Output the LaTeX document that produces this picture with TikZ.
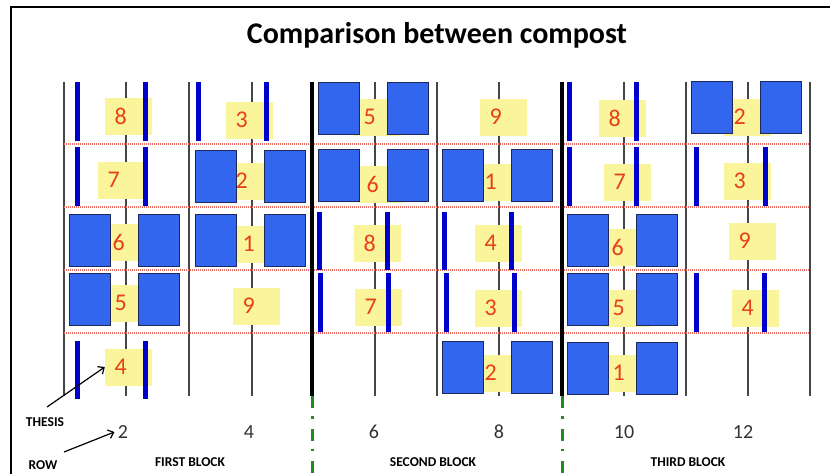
\documentclass[tikz,border=0pt]{standalone}
\usepackage{fontspec}
\setmainfont{Carlito}
\usepackage{xcolor}
\usetikzlibrary{arrows.meta, positioning, calc}
\definecolor{plotblue}{RGB}{50,102,238}
\definecolor{plotedge}{RGB}{30,40,90}
\definecolor{barblue}{RGB}{0,0,204}
\definecolor{labelyellow}{RGB}{250,245,155}
\definecolor{numred}{RGB}{232,64,24}
\definecolor{dotred}{RGB}{230,110,100}
\definecolor{blockgreen}{RGB}{30,140,30}
\definecolor{linegray}{RGB}{70,70,70}
\definecolor{numgray}{RGB}{50,50,50}

\begin{document}
\begin{tikzpicture}[x=1pt, y=-1pt,
    numtag/.style={fill=labelyellow, text=numred, inner xsep=9.5pt, inner ysep=0pt,
      text width=28pt, align=left, minimum height=37pt, font=\fontsize{24}{24}\selectfont},
    plotbox/.style={fill=plotblue, draw=plotedge, line width=0.8pt},
    plotbar/.style={barblue, line width=5pt},
    rowline/.style={linegray, line width=1.3pt},
    blockline/.style={black, line width=4pt},
    blockdash/.style={blockgreen, line width=3pt, dash pattern=on 12pt off 8pt on 2.5pt off 10pt},
    plotsep/.style={dotred, line width=1.1pt, dash pattern=on 1pt off 1pt},
    colnum/.style={text=numgray, font=\fontsize{20}{20}\selectfont},
    caption/.style={font=\bfseries\fontsize{13.5}{13.5}\selectfont},
    pointer/.style={-{Straight Barb[length=5pt, width=9pt]}, line width=1.2pt}]
    \useasboundingbox (0,0) rectangle (830,474);
    % Frame
    \draw [line width=2pt] (11,474) -- (11,7) -- (830,7);
    % Title
    \node [font=\bfseries\fontsize{30}{30}\selectfont] (title) at (437,35) {Comparison between compost};
    % Row lines
    \foreach \x in {64,126,189,252,375,437,499,624,686,748,810}
        \draw [rowline] (\x,82) -- (\x,396);
    % Plot borders
    \foreach \y in {144,207,270,333}
        \draw [plotsep] (64,\y) -- (810,\y);
    % Block borders
    \foreach \x in {312,562} {
        \draw [blockline] (\x,82) -- (\x,396);
        \draw [blockdash] (\x,396) -- (\x,474);
    }
    % Treatment numbers
    \foreach \x/\y/\n/\id in {120/116/8/c1r1, 241/120/3/c2r1, 369/117/5/c3r1, 495/117/9/c4r1, 614/118/8/c5r1, 739/117/2/c6r1,
        113/180/7/c1r2, 241/181/2/c2r2, 372/184/6/c3r2, 490/182/1/c4r2, 619/182/7/c5r2, 739/181/3/c6r2,
        118/242/6/c1r3, 248/244/1/c2r3, 369/243/8/c3r3, 490/243/4/c4r3, 617/247/6/c5r3, 744/241/9/c6r3,
        120/303/5/c1r4, 248/306/9/c2r4, 370/307/7/c3r4, 490/308/3/c4r4, 618/308/5/c5r4, 747/308/4/c6r4,
        120/367/4/c1r5, 490/373/2/c4r5, 618/373/1/c5r5}
        \node [numtag] (\id) at (\x+8.5,\y) {\n};
    % Compost plots
    \foreach \c/\t in {126/214, 126/273, 252/150, 252/214, 375/82, 375/149,
        499/149, 499/341, 624/214, 624/273, 624/342, 748/81} {
        \filldraw [plotbox] (\c-57,\t) rectangle (\c-16,\t+52);
        \filldraw [plotbox] (\c+12,\t) rectangle (\c+53,\t+52);
    }
    % Thesis plots
    \foreach \l/\r/\t/\b in {77/145/82/141, 77/145/147/206, 77/145/341/399, 198/266/82/141,
        319/387/212/270, 320/388/273/332, 444/511/212/270, 446/514/273/332,
        569/636/82/141, 569/636/147/206, 696/765/147/206, 696/764/273/332} {
        \draw [plotbar] (\l,\t) -- (\l,\b);
        \draw [plotbar] (\r,\t) -- (\r,\b);
    }
    % Row numbers
    \foreach \x/\n in {123/2, 249/4, 374/6, 499/8, 624/10, 743/12}
        \node [colnum] (col\n) at (\x,432) {\n};
    % Blocks
    \node [caption] (first) at (190,462) {FIRST BLOCK};
    \node [caption] (second) at (433,462) {SECOND BLOCK};
    \node [caption] (third) at (688,462) {THIRD BLOCK};
    % Legend
    \node [caption] (thesis) at (45,422) {THESIS};
    \node [caption] (row) at (43,465) {ROW};
    \coordinate (thesistail) at (47,407);
    \coordinate (rowtail) at (64,452);
    \draw [pointer] (thesistail) -- (c1r5.west);
    \draw [pointer] (rowtail) -- (col2.west);
\end{tikzpicture}
\end{document}
